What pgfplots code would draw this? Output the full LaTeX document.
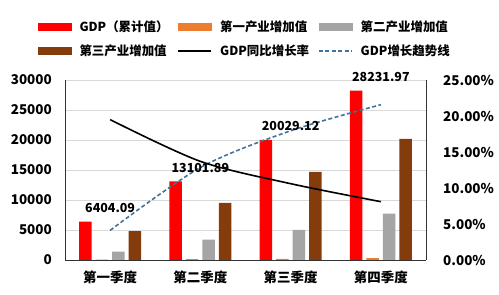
\documentclass[border=0pt]{standalone}
\usepackage{fontspec}
\setmainfont{Noto Sans CJK SC}
\usepackage{pgfplots}
\pgfplotsset{compat=1.18}

\definecolor{gdpred}{HTML}{FF0000}
\definecolor{primary}{HTML}{ED7D31}
\definecolor{secondary}{HTML}{A5A5A5}
\definecolor{tertiary}{HTML}{843C0C}
\definecolor{trend}{HTML}{41719C}
\definecolor{gridgray}{HTML}{D9D9D9}

\newcommand{\tickfont}{\bfseries\fontsize{13.5}{15}\selectfont}
\newcommand{\labfont}{\bfseries\fontsize{12.5}{14}\selectfont}

\pgfplotsset{
  common/.style={
    scale only axis, width=361bp, height=180bp,
    at={(65bp,35bp)}, anchor=south west,
    xmin=-0.5, xmax=3.5,
    /pgf/number format/assume math mode=true,
    tick label style={font=\tickfont},
    ytick style={draw=none},
  },
  barimg/.style={legend image code/.code={\fill[##1] (0bp,-3.5bp) rectangle (33bp,3.5bp);}},
  lineimg/.style={legend image code/.code={\draw[##1] (0bp,0bp) -- (33bp,0bp);}},
}

\begin{document}
\begin{tikzpicture}
\useasboundingbox (0,0) rectangle (499bp,295bp);

% GDP and value added by sector (left axis)
\begin{axis}[common,
  ymin=0, ymax=30000, ytick={0,5000,...,30000},
  scaled y ticks=false,
  yticklabel style={/pgf/number format/1000 sep={}, anchor=east, inner sep=0pt, xshift=-13bp},
  axis x line*=bottom, axis y line*=left,
  axis line style={black!80, line width=0.8bp},
  ymajorgrids, grid style={gridgray, line width=0.8bp},
  xtick={0,1,2,3},
  xticklabels={第一季度,第二季度,第三季度,第四季度},
  xtick style={draw=none},
  xticklabel style={anchor=north, inner sep=0pt, yshift=-11bp},
  extra x ticks={0.5,1.5,2.5}, extra x tick labels={},
  extra x tick style={tick align=inside, major tick length=4bp,
    tick style={draw=black!80, line width=0.8bp}},
]
\addplot[ybar, bar width=12.5bp, bar shift=-24.75bp, fill=gdpred, draw=none,
  point meta=explicit symbolic, nodes near coords,
  nodes near coords style={font=\labfont, anchor=south, inner sep=0pt, yshift=9bp}]
  coordinates {(0,6404.09)[6404.09] (1,13101.89)[13101.89] (2,20029.12)[20029.12] (3,28231.97)[28231.97]};
\addplot[ybar, bar width=12.5bp, bar shift=-8.25bp, fill=primary, draw=none]
  coordinates {(0,60) (1,130) (2,200) (3,306)};
\addplot[ybar, bar width=12.5bp, bar shift=8.25bp, fill=secondary, draw=none]
  coordinates {(0,1400) (1,3380) (2,5000) (3,7723)};
\addplot[ybar, bar width=12.5bp, bar shift=24.75bp, fill=tertiary, draw=none]
  coordinates {(0,4800) (1,9500) (2,14700) (3,20203)};
% logarithmic trend of cumulative GDP
\addplot[trend, line width=1.6bp, dash pattern=on 4bp off 2.5bp, smooth]
  coordinates {(0,4937) (1,15410) (2,21537) (3,25884)};
\end{axis}

% year-on-year growth rate (right axis)
\begin{axis}[common,
  ymin=0, ymax=25, ytick={0,5,...,25},
  axis y line*=right, axis x line=none,
  axis line style={black!80, line width=0.8bp},
  yticklabel={\pgfmathprintnumber[fixed,fixed zerofill,precision=2]{\tick}\%},
  yticklabel style={anchor=west, inner sep=0pt, xshift=17bp},
  legend columns=3,
  legend cell align=left,
  legend style={at={(axis description cs:-0.075,1.342)}, anchor=north west,
    draw=none, fill=none, font=\labfont, inner sep=0pt, row sep=8bp,
    /tikz/every odd column/.append style={column sep=6bp},
    /tikz/every even column/.append style={column sep=7bp}},
]
\addlegendimage{barimg, gdpred}
\addlegendentry{GDP（累计值）}
\addlegendimage{barimg, primary}
\addlegendentry{第一产业增加值}
\addlegendimage{barimg, secondary}
\addlegendentry{第二产业增加值}
\addlegendimage{barimg, tertiary}
\addlegendentry{第三产业增加值}
\addplot[lineimg, black, line width=1.6bp, smooth]
  coordinates {(0,19.5) (1,13.7) (2,10.6) (3,8.1)};
\addlegendentry{GDP同比增长率}
\addlegendimage{lineimg, trend, line width=1.6bp, dash pattern=on 4bp off 2.5bp}
\addlegendentry{GDP增长趋势线}
\end{axis}
\end{tikzpicture}
\end{document}
